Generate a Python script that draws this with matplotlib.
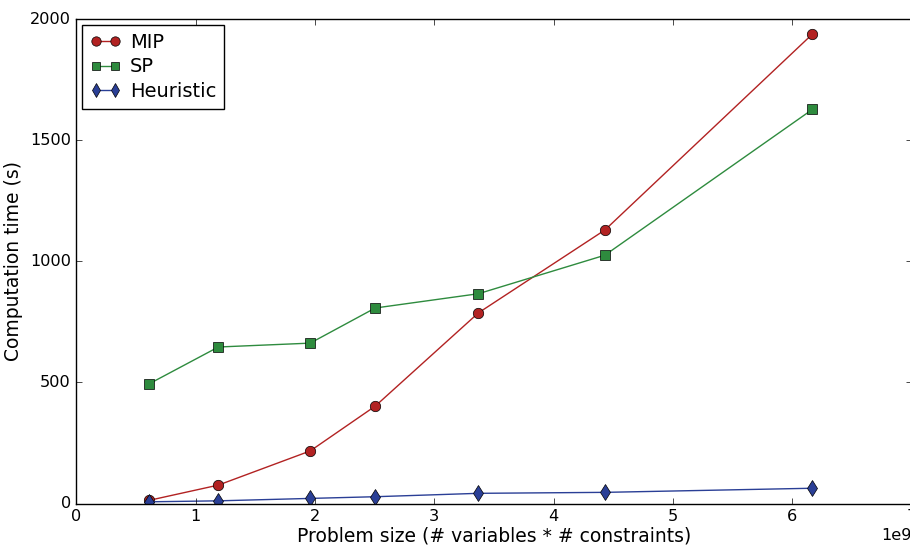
import numpy as np
import matplotlib
matplotlib.use("Agg")
import matplotlib.pyplot as plt

# problem size (x 1e9) and computation times in seconds
problem_size = [0.61, 1.19, 1.96, 2.505, 3.37, 4.43, 6.17]
t_mip = [13, 76, 217, 402, 787, 1129, 1938]
t_sp = [494, 646, 662, 807, 866, 1025, 1627]
t_heur = [7, 11, 21, 28, 42, 46, 63]

plt.style.use("classic")

fig = plt.figure(figsize=(9.10, 5.47), dpi=100)
fig.patch.set_facecolor("white")
ax = fig.add_axes([76.4 / 910, 43.5 / 547, 835.1 / 910, 484.5 / 547])

x = np.array(problem_size) * 1e9
ax.plot(x, t_mip, "-o", color="#b22222", mfc="#b22222", mec="black",
        ms=7.5, lw=1, label="MIP")
ax.plot(x, t_sp, "-s", color="#2e8b3e", mfc="#2e8b3e", mec="black",
        ms=6.5, lw=1, label="SP")
ax.plot(x, t_heur, "-d", color="#2a3f96", mfc="#2a3f96", mec="black",
        ms=8, lw=1, label="Heuristic")

ax.set_xlim(0, 7e9)
ax.set_ylim(0, 2000)
ax.set_yticks([0, 500, 1000, 1500, 2000])
ax.tick_params(labelsize=11.6)
ax.xaxis.get_offset_text().set_fontsize(11.6)
ax.set_xlabel("Problem size (# variables * # constraints)", fontsize=13.5,
              labelpad=2)
ax.set_ylabel("Computation time (s)", fontsize=13.5)

ax.legend(loc="upper left", fontsize=14, numpoints=2, handlelength=1.6,
          borderaxespad=0.3, handletextpad=0.45, labelspacing=0.3,
          markerscale=0.9)

fig.savefig("out.png", dpi=100, facecolor="white")
